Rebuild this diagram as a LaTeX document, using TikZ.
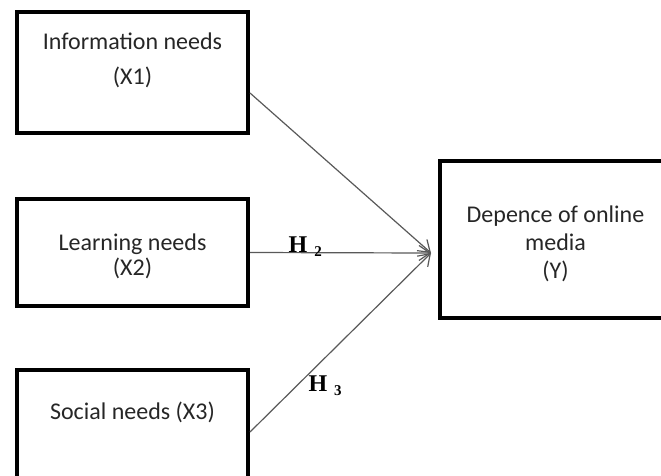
\documentclass[tikz,border=0pt]{standalone}
\usepackage{fontspec}
\setmainfont{Carlito}
\newfontfamily\hfont{Liberation Serif}
\usetikzlibrary{arrows.meta,positioning}
\newcommand{\hyp}[1]{{\hfont\bfseries H\hspace{7pt}\raisebox{-4pt}{\fontsize{15}{15}\selectfont #1}}}

\begin{document}
\begin{tikzpicture}[x=1pt,y=-1pt,
  box/.style={draw,line width=4pt,minimum width=231pt,inner sep=0pt},
  txt/.style={align=center,inner sep=0pt,font=\fontsize{24}{28}\selectfont,text=black!85},
  link/.style={draw=black!65,line width=1.2pt,-{Straight Barb[length=11pt,width=15pt]}},
  hlab/.style={anchor=base west,inner sep=0pt,font=\fontsize{24}{24}\selectfont}]
\useasboundingbox (0,0) rectangle (661,475);
\clip (0,0) rectangle (661,475);
\node[box,minimum height=121pt] (info) at (132.5,72.5) {};
\node[box,minimum height=107pt] (learn) at (132.5,252.5) {};
\node[box,minimum height=124pt] (social) at (132.5,432) {};
\node[box,minimum height=157pt] (dep) at (555.5,239.5) {};
\node[txt] (info-t) at ([yshift=12pt]info.center) {Information needs\\[7pt](X1)};
\node[txt] (learn-t) at ([yshift=-3.5pt]learn.center) {Learning needs\\[-3pt](X2)};
\node[txt] (social-t) at ([yshift=20pt]social.center) {Social needs (X3)};
\node[txt] (dep-t) at ([yshift=-4pt]dep.center) {Depence of online\\media\\(Y)};
\coordinate (hub) at (431,253);
\draw[link] ([yshift=-20.5pt]info.east) -- (hub);
\draw[link] (learn.east) -- (hub) node[hlab,pos=.21] {\hyp{2}};
\draw[link] (social.east) -- (hub) node[hlab,pos=.32,yshift=-17pt] {\hyp{3}};
\end{tikzpicture}
\end{document}
